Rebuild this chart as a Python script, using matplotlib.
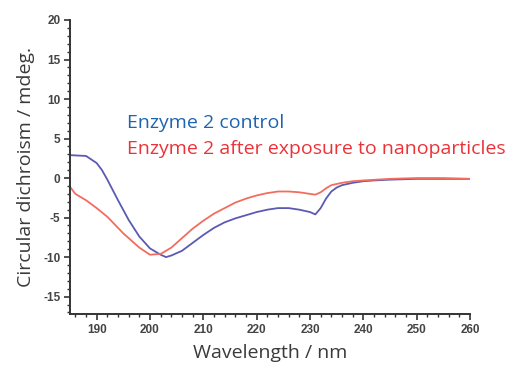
import numpy as np
import matplotlib.pyplot as plt
from matplotlib.ticker import MultipleLocator

plt.rcParams['font.family'] = ['Open Sans', 'DejaVu Sans']
plt.rcParams['axes.unicode_minus'] = False

# wavelength (nm) and CD signal (mdeg)
wl_ctrl = [185, 188, 190, 191, 192, 194, 196, 198, 200, 202, 203, 204, 206, 208, 210,
           212, 214, 216, 218, 220, 222, 224, 226, 228, 230, 231, 232, 233, 234,
           235, 236, 238, 240, 242, 245, 250, 255, 260]
cd_ctrl = [2.9, 2.8, 1.9, 1.0, -0.2, -2.8, -5.3, -7.4, -8.9, -9.7, -10.0, -9.8, -9.2, -8.2, -7.2,
           -6.3, -5.6, -5.1, -4.7, -4.3, -4.0, -3.8, -3.8, -4.0, -4.3, -4.6, -3.8, -2.6, -1.7,
           -1.2, -0.9, -0.6, -0.4, -0.3, -0.2, -0.1, -0.1, -0.1]

wl_np = [185, 186, 188, 190, 192, 195, 198, 200, 202, 204, 206, 208, 210, 212, 214,
         216, 218, 220, 222, 224, 226, 228, 230, 231, 232, 233, 234, 236, 238, 240,
         245, 250, 255, 260]
cd_np = [-1.1, -2.0, -2.8, -3.8, -4.9, -7.0, -8.8, -9.7, -9.6, -8.8, -7.6, -6.4, -5.4, -4.5, -3.8,
         -3.1, -2.6, -2.2, -1.9, -1.7, -1.7, -1.8, -2.0, -2.1, -1.8, -1.3, -0.9, -0.6, -0.4, -0.3,
         -0.1, 0.0, 0.0, -0.1]

fig = plt.figure(figsize=(5.15, 3.66), dpi=100)
ax = fig.add_axes([70/515, 52/366, 400/515, 294/366])

ax.plot(wl_ctrl, cd_ctrl, color='#5a5ab4', lw=1.3)
ax.plot(wl_np, cd_np, color='#f26d5e', lw=1.3)

ax.set_xlim(185, 260)
ax.set_ylim(-17.2, 20)
ax.xaxis.set_major_locator(MultipleLocator(10))
ax.xaxis.set_minor_locator(MultipleLocator(2))
ax.yaxis.set_major_locator(MultipleLocator(5))
ax.yaxis.set_minor_locator(MultipleLocator(1))
ax.tick_params(which='major', length=4, width=1.2, color='#333333', labelsize=8.5,
               labelcolor='#444444', pad=3)
ax.tick_params(which='minor', length=2.5, width=1.0, color='#333333')
for lab in ax.get_xticklabels() + ax.get_yticklabels():
    lab.set_family('Liberation Sans')
    lab.set_fontweight('bold')

for s in ['top', 'right']:
    ax.spines[s].set_visible(False)
for s in ['left', 'bottom']:
    ax.spines[s].set_color('#333333')
    ax.spines[s].set_linewidth(1.4)

ax.set_xlabel('Wavelength / nm', fontsize=14, color='#3a3a3a', labelpad=6)
ax.set_ylabel('Circular dichroism / mdeg.', fontsize=14, color='#3a3a3a', labelpad=6)

fig.text(127/515, 1 - 123/366, 'Enzyme 2 control', color='#1e64b0', fontsize=14, va='center')
fig.text(127/515, 1 - 149/366, 'Enzyme 2 after exposure to nanoparticles', color='#ec3238',
         fontsize=14, va='center')

fig.savefig('out.png', dpi=100)
